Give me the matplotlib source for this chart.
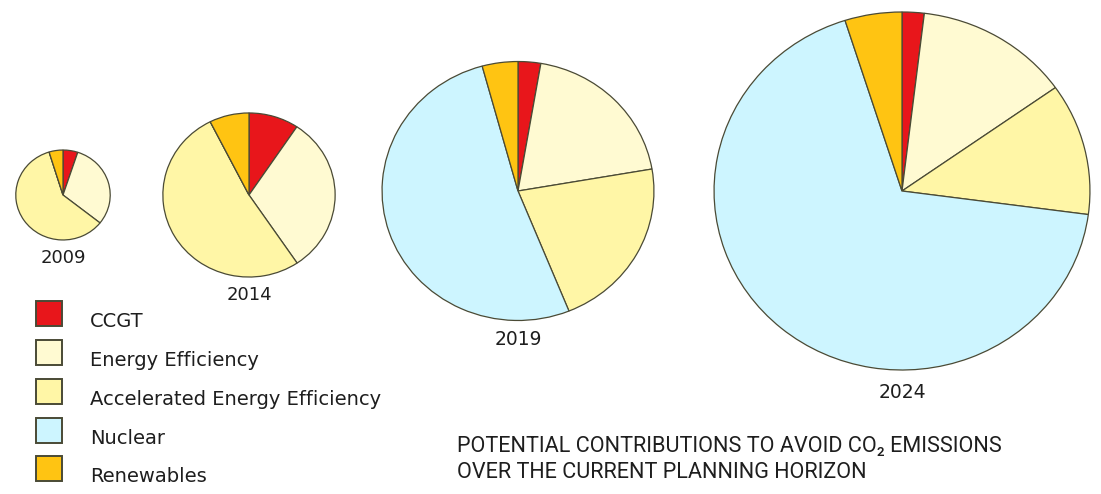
import numpy as np
import matplotlib
matplotlib.use("Agg")
import matplotlib.pyplot as plt
from matplotlib.patches import Rectangle

# ---- data -------------------------------------------------------------
years = ["2009", "2014", "2019", "2024"]
categories = ["CCGT", "Energy Efficiency", "Accelerated Energy Efficiency",
              "Nuclear", "Renewables"]
# avoided emissions per option, same order as categories
ccgt        = [0.32, 1.97, 1.41, 1.9]
efficiency  = [1.93, 6.55, 10.25, 13.3]
accelerated = [3.76, 10.92, 11.30, 11.9]
nuclear     = [0.0, 0.0, 27.14, 68.0]
renewables  = [0.30, 1.56, 2.22, 4.9]

title_lines = ["POTENTIAL CONTRIBUTIONS TO AVOID CO\u2082 EMISSIONS",
               "OVER THE CURRENT PLANNING HORIZON"]

# ---- style ------------------------------------------------------------
colors = ["#E8161B", "#FFFAD2", "#FFF6A6", "#CDF5FF", "#FFC412"]
edge = "#4A4A35"
text_color = "#1E1E1E"
BODY = ["DejaVu Sans"]
CAPTION = ["Roboto", "DejaVu Sans"]

W, H = 1101, 494
SX = 1.05           # horizontal stretch of the artwork
R_MAX = 179         # radius (px) of the largest pie

# pie centres in pixel coordinates (x from left, y from top)
centers = [(63, 195), (249, 195), (518, 191), (902, 191)]
label_gap = [18, 18, 19, 23]
label_size = [13, 13, 13.5, 13.5]

fig = plt.figure(figsize=(W / 100, H / 100), dpi=100)
ax = fig.add_axes([0, 0, 1, 1])


def px(x):
    return x / SX


def py(y):
    return H - y


series = np.array([ccgt, efficiency, accelerated, nuclear, renewables])
totals = series.sum(axis=0)
max_total = totals.max()

for i, year in enumerate(years):
    vals = series[:, i]
    r = R_MAX * np.sqrt(totals[i] / max_total)
    cx, cy = centers[i]
    ax.pie(vals, colors=colors, startangle=90, counterclock=False,
           center=(px(cx), py(cy)), radius=r, frame=True,
           wedgeprops=dict(edgecolor=edge, linewidth=0.9))
    ax.text(px(cx), py(cy) - r - label_gap[i], year, ha="center", va="center",
            fontsize=label_size[i], family=BODY, color=text_color)

# legend
sq_x, sq_w, sq_h = 36, 26, 25
sq_tops = [301, 340, 379, 418, 456]
for cat, col, top in zip(categories, colors, sq_tops):
    ax.add_patch(Rectangle((px(sq_x), py(top + sq_h)), sq_w / SX, sq_h,
                           facecolor=col, edgecolor=edge, linewidth=1.4))
    ax.text(px(90), py(top + sq_h + 1), cat, ha="left", va="baseline",
            fontsize=14, family=BODY, color=text_color)

# caption
for line, base in zip(title_lines, [452, 478]):
    ax.text(px(457), py(base), line, ha="left", va="baseline",
            fontsize=15.6, family=CAPTION, color=text_color)

ax.set_aspect("auto")
ax.set_xlim(0, W / SX)
ax.set_ylim(0, H)
ax.axis("off")

fig.savefig("out.png", dpi=100, facecolor="white")
